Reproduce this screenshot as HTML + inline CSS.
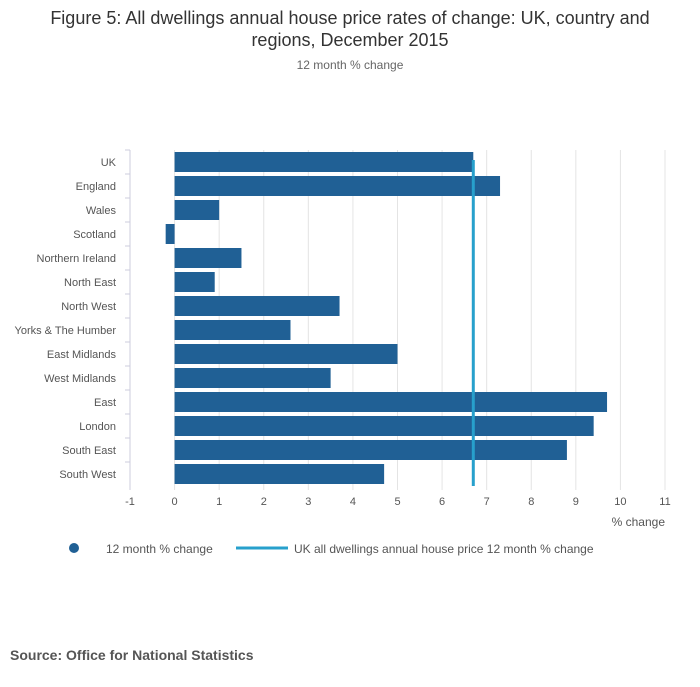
<!DOCTYPE html>
<html><head><meta charset="utf-8">
<style>
body{margin:0;background:#fff;font-family:"Liberation Sans",sans-serif;}
svg text{font-family:"Liberation Sans",sans-serif;}
</style></head>
<body>
<svg width="700" height="682" xmlns="http://www.w3.org/2000/svg" id="chart">
<text x="350" y="24" text-anchor="middle" font-size="18" fill="#333">Figure 5: All dwellings annual house price rates of change: UK, country and</text>
<text x="350" y="46" text-anchor="middle" font-size="18" fill="#333">regions, December 2015</text>
<text x="350" y="69" text-anchor="middle" font-size="12" fill="#666">12 month % change</text>
<g id="grid"></g>
<g id="bars"></g>
<g id="labels"></g>
<text x="665" y="526" text-anchor="end" font-size="12" fill="#555">% change</text>
<circle cx="74" cy="548" r="5" fill="#206095"/>
<text x="106" y="553" font-size="12" fill="#555">12 month % change</text>
<line x1="236" y1="548" x2="288" y2="548" stroke="#27a0cc" stroke-width="3"/>
<text x="294" y="553" font-size="12" fill="#555">UK all dwellings annual house price 12 month % change</text>
<text x="10" y="660" font-size="14" font-weight="bold" fill="#555">Source: Office for National Statistics</text>
</svg>
<script>
const categories=["UK","England","Wales","Scotland","Northern Ireland","North East","North West","Yorks & The Humber","East Midlands","West Midlands","East","London","South East","South West"];
const values=[6.7,7.3,1.0,-0.2,1.5,0.9,3.7,2.6,5.0,3.5,9.7,9.4,8.8,4.7];
const ukValue=[6.7];
const xTicks=[-1,0,1,2,3,4,5,6,7,8,9,10,11];
const NS="http://www.w3.org/2000/svg";
const x0=130,x1=665,plotTop=150,plotBottom=486,step=24;
function x(v){return x0+(v-(-1))/(12)*(x1-x0);}
function y(i){return plotTop+12+i*step;}
const grid=document.getElementById('grid'),bars=document.getElementById('bars'),labels=document.getElementById('labels');
function mk(tag,attrs,parent){const e=document.createElementNS(NS,tag);for(const k in attrs)e.setAttribute(k,attrs[k]);parent.appendChild(e);return e;}
xTicks.forEach(t=>{
  const l=mk('line',{x1:x(t),x2:x(t),y1:plotTop,y2:plotBottom+4,stroke:t===-1?'#ccd':'#e4e4e4','stroke-width':1},grid);
  
  
  const tx=mk('text',{x:x(t),y:505,'text-anchor':'middle','font-size':11,fill:'#555'},grid);
  tx.textContent=t;
  
  
});
categories.forEach((c,i)=>{
  const tk=mk('line',{x1:x0-5,x2:x0,y1:plotTop+i*step,y2:plotTop+i*step,stroke:'#ccd'},grid);
  
  
  const v=values[i];
  const r=mk('rect',{x:Math.min(x(0),x(v)),y:y(i)-10,width:Math.abs(x(v)-x(0)),height:20,fill:'#206095'},bars);
  
  
  const t=mk('text',{x:116,y:y(i)+4,'text-anchor':'end','font-size':11,fill:'#555'},labels);
  t.textContent=c;
  
  
});
const ln=mk('line',{x1:x(ukValue[0]),x2:x(ukValue[0]),y1:y(0)-2,y2:y(categories.length-1)+12,stroke:'#27a0cc','stroke-width':3},bars);


</script>
</body></html>
